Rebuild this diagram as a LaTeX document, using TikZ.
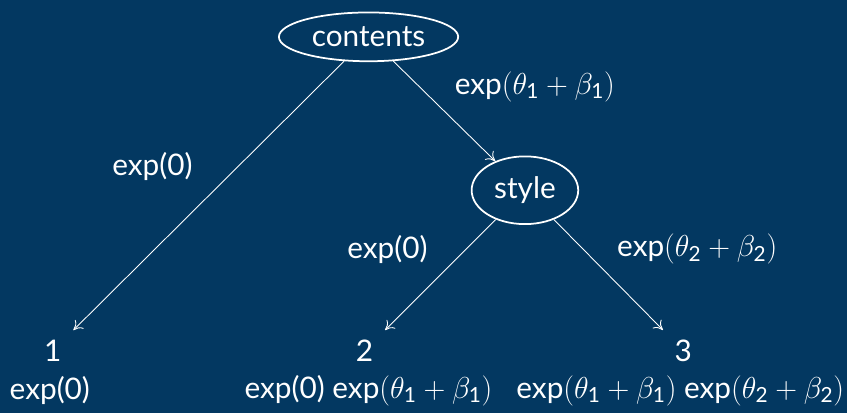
\documentclass[tikz,border=0pt]{standalone}
\usepackage{amsmath}
\usepackage{fontspec}
\setmainfont{Lato}
\usetikzlibrary{shapes.geometric,arrows.meta}
\definecolor{bgblue}{RGB}{3,56,97}
\newcommand{\sone}{\text{1}}
\newcommand{\stwo}{\text{2}}

\begin{document}
\begin{tikzpicture}[x=0.02cm,y=-0.02cm,
  every node/.style={text=white,font=\fontsize{17}{20}\selectfont},
  split/.style={draw=white,ellipse,line width=1pt,inner sep=0pt},
  leaf/.style={circle,minimum size=1.15cm,inner sep=0pt},
  edge/.style={draw=white,line width=0.5pt,-{To[length=5pt,width=7pt]}}]
\fill[bgblue] (0,0) rectangle (850,415);
\node[split,minimum width=3.6cm,minimum height=0.98cm] (contents) at (370,37) {contents};
\node[split,minimum width=2.14cm,minimum height=1.36cm] (style) at (527,191) {style};
\node[leaf] (one) at (53,352) {1};
\node[leaf] (two) at (366,352) {2};
\node[leaf] (three) at (686,352) {3};
\draw[edge] (contents) -- (one);
\draw[edge] (contents) -- (style);
\draw[edge] (style) -- (two);
\draw[edge] (style) -- (three);
\node (lone) at (153,167) {exp(0)};
\node (lstyle) at (537,87) {exp$(\theta_\sone+\beta_\sone)$};
\node (ltwo) at (389,250) {exp(0)};
\node (lthree) at (700,250) {exp$(\theta_\stwo+\beta_\stwo)$};
\node (pone) at (50,392) {exp(0)};
\node (ptwo) at (370,392) {exp(0) exp$(\theta_\sone+\beta_\sone)$};
\node (pthree) at (683,392) {exp$(\theta_\sone+\beta_\sone)$ exp$(\theta_\stwo+\beta_\stwo)$};
\end{tikzpicture}
\end{document}
